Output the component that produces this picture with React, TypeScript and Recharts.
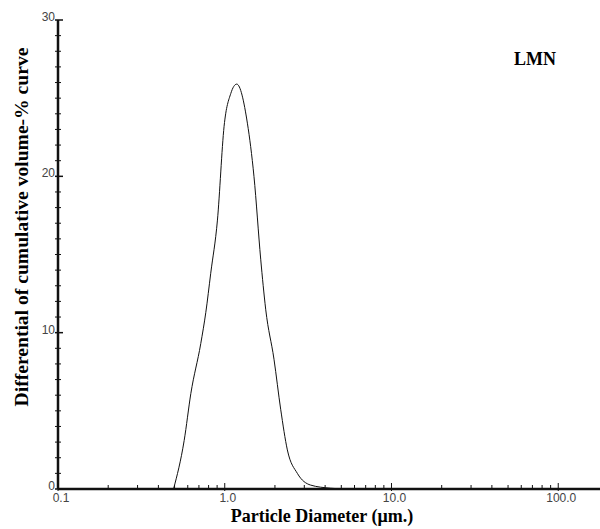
import { LineChart, Line, XAxis, YAxis } from "recharts";

// particle diameter (µm) and differential volume-% values
const diameters = [
  0.493, 0.571, 0.626, 0.718, 0.77, 0.824, 0.904, 0.991, 1.087, 1.18, 1.367,
  1.497, 1.643, 1.76, 1.974, 2.165, 2.374, 2.725, 3.273, 4.314, 5.3,
];
const volumes = [
  0, 3.1, 6.1, 9.3, 11.3, 13.8, 17.2, 23.2, 25.3, 25.9, 23.4, 20, 14.7, 11.5,
  8.3, 5.1, 2.5, 1.0, 0.25, 0.05, 0,
];

const xMajor = [0.1, 1, 10, 100];
const xMajorLabels = ["0.1", "1.0", "10.0", "100.0"];
const xTicks = [
  0.1, 0.2, 0.3, 0.4, 0.5, 0.6, 0.7, 0.8, 0.9, 1, 2, 3, 4, 5, 6, 7, 8, 9, 10,
  20, 30, 40, 50, 60, 70, 80, 90, 100,
];
const yTicks = Array.from({ length: 31 }, (_, i) => i);
const yLabeled = [0, 10, 20, 30];

const data = diameters.map((d, i) => ({ d, v: volumes[i] }));

const tickFont = { fontFamily: "Liberation Sans, Arial, sans-serif", fontSize: 12, fill: "#444" };
const serif = "Liberation Serif, Times New Roman, serif";

function XTick(props: any) {
  const { x, y, payload } = props;
  const idx = xMajor.findIndex((m) => Math.abs(m - payload.value) < 1e-9);
  const major = idx >= 0;
  return (
    <g>
      <line x1={x} x2={x} y1={y - (major ? 6 : 4)} y2={y + (major ? 2 : 0)} stroke="#111" strokeWidth={1} />
      {major && (
        <text x={x + 3} y={y + 13} textAnchor="middle" {...tickFont}>
          {xMajorLabels[idx]}
        </text>
      )}
    </g>
  );
}

function YTick(props: any) {
  const { x, y, payload } = props;
  const major = yLabeled.includes(payload.value);
  return (
    <g>
      <line x1={x - 3} x2={x + (major ? 5 : 3)} y1={y} y2={y} stroke="#111" strokeWidth={major ? 1.5 : 1} />
      {major && (
        <text x={x - 3} y={y + 1} textAnchor="end" {...tickFont}>
          {payload.value}
        </text>
      )}
    </g>
  );
}

export default function App() {
  return (
    <div style={{ position: "absolute", left: 0, top: 0, width: 600, height: 529, background: "#fff" }}>
      <LineChart
        width={600}
        height={529}
        data={data}
        margin={{ top: 20, right: 0, left: 48, bottom: 30 }}
      >
        <XAxis
          dataKey="d"
          type="number"
          scale="log"
          domain={[0.1, 178]}
          allowDataOverflow
          ticks={xTicks}
          interval={0}
          height={10}
          tickSize={0}
          tickMargin={0}
          tickLine={false}
          axisLine={{ stroke: "#111", strokeWidth: 2.5 }}
          tick={<XTick />}
        />
        <YAxis
          type="number"
          domain={[0, 30]}
          ticks={yTicks}
          interval={0}
          width={10}
          tickSize={0}
          tickMargin={0}
          tickLine={false}
          axisLine={{ stroke: "#111", strokeWidth: 2.5 }}
          tick={<YTick />}
        />
        <Line
          dataKey="v"
          type="monotone"
          stroke="#111"
          strokeWidth={1}
          dot={false}
          isAnimationActive={false}
        />
      </LineChart>
      <div
        style={{
          position: "absolute",
          left: 22,
          top: 227,
          transform: "translate(-50%, -50%) rotate(-90deg)",
          whiteSpace: "nowrap",
          fontFamily: serif,
          fontWeight: "bold",
          fontSize: 19.6,
        }}
      >
        Differential of cumulative volume-% curve
      </div>
      <div
        style={{
          position: "absolute",
          left: 322,
          top: 506,
          transform: "translateX(-50%)",
          whiteSpace: "nowrap",
          fontFamily: serif,
          fontWeight: "bold",
          fontSize: 18,
        }}
      >
        Particle Diameter (μm.)
      </div>
      <div
        style={{
          position: "absolute",
          left: 514,
          top: 49,
          fontFamily: serif,
          fontWeight: "bold",
          fontSize: 18,
        }}
      >
        LMN
      </div>
    </div>
  );
}
